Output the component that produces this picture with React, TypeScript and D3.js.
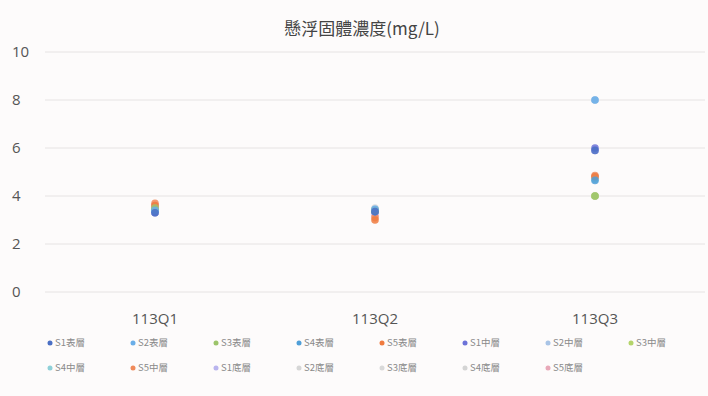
import React from "react";
import * as d3 from "d3";

const categories = ["113Q1", "113Q2", "113Q3"];
const yTicks = [0, 2, 4, 6, 8, 10];

const seriesNames = [
  "S1表層", "S2表層", "S3表層", "S4表層", "S5表層",
  "S1中層", "S2中層", "S3中層", "S4中層", "S5中層",
  "S1底層", "S2底層", "S3底層", "S4底層", "S5底層",
];

const seriesColors = [
  "#4a6fc4", "#6aaee8", "#9cc46a", "#4f9fd8", "#f07b3f",
  "#6c72d8", "#a9c4e6", "#b4d46a", "#8fd0d8", "#f08a5a",
  "#b9b4ee", "#d6d6d6", "#d9d9d9", "#d4d4d4", "#e8a8b8",
];

// one value per quarter (113Q1, 113Q2, 113Q3) for each series
const seriesValues = [
  [3.3, 3.35, 5.9],
  [3.4, 3.45, 8.0],
  [3.5, 3.4, 4.0],
  [3.4, 3.35, 4.65],
  [3.6, 3.0, 4.8],
  [3.3, 3.35, 6.0],
  [3.5, 3.45, 8.0],
  [3.4, 3.4, 4.0],
  [3.5, 3.4, 4.7],
  [3.7, 3.1, 4.85],
  [3.4, 3.3, 5.9],
  [3.5, 3.4, 4.0],
  [3.6, 3.5, 4.0],
  [3.5, 3.4, 4.8],
  [3.6, 3.2, 4.8],
];

const W = 708;
const H = 396;

export default function App() {
  const x = d3.scaleBand().domain(categories).range([45, 705]);
  const y = d3.scaleLinear().domain([0, 10]).range([292, 52]);

  const perRow = 8;
  const legendX = d3.scaleLinear().domain([0, 1]).range([50, 133]);

  // earlier series are painted last so they sit on top
  const drawOrder = d3.range(seriesValues.length).reverse();

  return (
    <svg
      width={W}
      height={H}
      style={{ position: "absolute", left: 0, top: 0, background: "#fdfbfb" }}
      fontFamily="'Noto Sans CJK TC', 'Noto Sans', sans-serif"
    >
      <rect x={0} y={0} width={W} height={H} fill="#fdfbfb" />
      <text x={362} y={35} textAnchor="middle" fontSize={17} fill="#444">
        懸浮固體濃度(mg/L)
      </text>

      {yTicks.map((t) => (
        <g key={t}>
          <line x1={45} x2={705} y1={y(t)} y2={y(t)} stroke="#e6e3e3" strokeWidth={1} />
          <text
            x={12}
            y={y(t)}
            dy="0.35em"
            fontSize={15}
            fill="#555"
            fontFamily="'Open Sans', 'Noto Sans', sans-serif"
          >
            {t}
          </text>
        </g>
      ))}

      {categories.map((c) => (
        <text
          key={c}
          x={(x(c) ?? 0) + x.bandwidth() / 2}
          y={324}
          textAnchor="middle"
          fontSize={15}
          fill="#555"
          fontFamily="'Open Sans', 'Noto Sans', sans-serif"
        >
          {c}
        </text>
      ))}

      {drawOrder.map((si) =>
        seriesValues[si].map((v, ci) => (
          <circle
            key={`${si}-${ci}`}
            cx={(x(categories[ci]) ?? 0) + x.bandwidth() / 2}
            cy={y(v)}
            r={3.8}
            fill={seriesColors[si]}
            opacity={0.85}
          />
        ))
      )}

      {seriesNames.map((name, i) => {
        const row = Math.floor(i / perRow);
        const col = i % perRow;
        const lx = legendX(col);
        const ly = 343 + row * 25;
        return (
          <g key={name}>
            <circle cx={lx} cy={ly} r={2.5} fill={seriesColors[i]} />
            <text x={lx + 5} y={ly} dy="0.35em" fontSize={9.5} fill="#8a8a8a">
              {name}
            </text>
          </g>
        );
      })}
    </svg>
  );
}
